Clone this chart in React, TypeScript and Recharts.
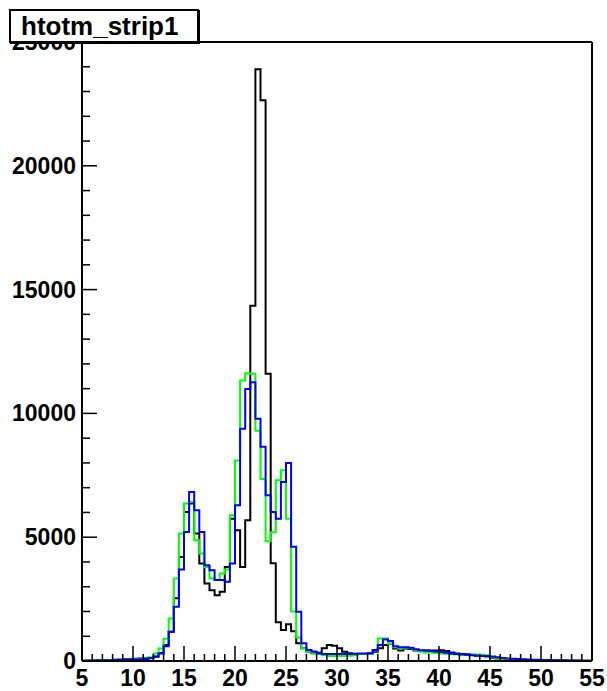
import React from "react"
import { LineChart, Line, XAxis, YAxis, ReferenceLine } from "recharts"

// 100 bins of width 0.5 from 5 to 55
const BIN_START = 5
const BIN_WIDTH = 0.5

const blackCounts = [
  15, 20, 25, 30, 40, 45, 50, 60, 70, 80, 90, 100, 110,
  120, 170, 320, 650, 1180, 2530, 4200, 6020, 6360,
  5150, 3940, 3130, 2860, 2660, 2795, 3800,
  5750, 5280, 3800, 5685, 14350, 23900, 22650, 11600, 3950, 1570, 1250, 1480, 1200, 720,
  510, 376, 310, 336, 510, 645, 620, 510, 376, 310, 282, 282, 282, 300, 376, 510, 645, 700, 500, 420,
  500, 480, 420, 400, 420, 420, 420, 430, 400, 340, 300, 280, 270, 250, 220, 200, 180, 130, 100, 80,
  70, 60, 55, 50, 45, 40, 35, 30, 25, 25, 20, 20, 15, 15, 10, 10, 10,
]

const greenCounts = [
  10, 15, 20, 25, 30, 40, 45, 50, 55, 60, 70, 80, 100,
  150, 300, 500, 900, 1720, 3330, 5150, 6360, 6420,
  4880, 4340, 3800, 3330, 3270, 3530, 3700,
  5890, 8100, 11330, 11625, 11600, 9300, 7350, 4840, 5200, 7300, 7700, 5750, 2000, 950,
  510, 376, 310, 280, 240, 200, 200, 200, 200, 210, 230, 280, 280, 290, 420, 910, 910, 700, 560, 500,
  540, 520, 440, 380, 340, 340, 320, 300, 290, 270, 260, 240, 240, 250, 260, 250, 230, 150, 100, 80,
  70, 60, 50, 40, 40, 30, 30, 25, 20, 20, 15, 15, 10, 10, 10, 5, 5,
]

const blueCounts = [
  10, 15, 20, 25, 30, 35, 40, 45, 50, 55, 60, 70, 80,
  110, 180, 300, 600, 1180, 2190, 3700, 5215, 6830,
  6090, 5215, 3870, 3670, 3270, 3270, 3200,
  3940, 6290, 9380, 10990, 11260, 9780, 8650, 6690, 6020, 5750, 7230, 8000, 4610, 1990,
  720, 440, 380, 310, 280, 280, 280, 280, 280, 280, 290, 300, 300, 310, 440, 645, 870, 810, 600, 560,
  560, 540, 470, 430, 420, 400, 380, 360, 330, 300, 280, 270, 250, 230, 210, 200, 200, 180, 150, 120,
  100, 90, 80, 70, 60, 55, 50, 45, 40, 35, 30, 30, 25, 20, 20, 15, 15,
]

const xTicks = Array.from({ length: 51 }, (_, i) => 5 + i)
const yTicks = Array.from({ length: 26 }, (_, i) => i * 1000)

// step rows: one per bin low edge, plus a closing row at the upper edge
const rows = blackCounts.map((_, i) => ({
  x: BIN_START + i * BIN_WIDTH,
  black: blackCounts[i],
  green: greenCounts[i],
  blue: blueCounts[i],
}))
rows.push({
  x: BIN_START + blackCounts.length * BIN_WIDTH,
  black: blackCounts[blackCounts.length - 1],
  green: greenCounts[greenCounts.length - 1],
  blue: blueCounts[blueCounts.length - 1],
})

const FONT = "'Liberation Sans', Arial, Helvetica, sans-serif"

const XTick = (props: any) => {
  const { x, y, payload } = props
  const major = payload.value % 5 === 0
  return (
    <g>
      <line x1={x} y1={y} x2={x} y2={y - (major ? 15 : 7)} stroke="#000" strokeWidth={1.5} />
      {major && (
        <text x={x} y={y + 25} textAnchor="middle" fontFamily={FONT} fontWeight="bold" fontSize={23} fill="#000">
          {payload.value}
        </text>
      )}
    </g>
  )
}

const YTick = (props: any) => {
  const { x, y, payload } = props
  const major = payload.value % 5000 === 0
  return (
    <g>
      <line x1={x} y1={y} x2={x + (major ? 15 : 8)} y2={y} stroke="#000" strokeWidth={1.5} />
      {major && (
        <text x={x - 6} y={y + 8} textAnchor="end" fontFamily={FONT} fontWeight="bold" fontSize={23} fill="#000">
          {payload.value}
        </text>
      )}
    </g>
  )
}

export default function App() {
  return (
    <div style={{ position: "fixed", left: 0, top: 0, width: 607, height: 691, background: "#fff" }}>
      <LineChart width={607} height={691} data={rows} margin={{ top: 42, right: 15, left: 0, bottom: 0 }}>
        <XAxis
          type="number"
          dataKey="x"
          domain={[5, 55]}
          ticks={xTicks}
          interval={0}
          tickSize={0}
          tickMargin={0}
          tick={<XTick />}
          axisLine={{ stroke: "#000", strokeWidth: 2 }}
          height={30}
          allowDataOverflow
        />
        <YAxis
          type="number"
          domain={[0, 25000]}
          ticks={yTicks}
          interval={0}
          tickSize={0}
          tickMargin={0}
          tick={<YTick />}
          axisLine={{ stroke: "#000", strokeWidth: 2 }}
          width={82}
          allowDataOverflow
        />
        <ReferenceLine x={55} stroke="#000" strokeWidth={2} />
        <ReferenceLine y={25000} stroke="#000" strokeWidth={2} />
        <Line type="stepAfter" dataKey="black" stroke="#000000" strokeWidth={2} dot={false} isAnimationActive={false} />
        <Line type="stepAfter" dataKey="green" stroke="#00ff00" strokeWidth={2} dot={false} isAnimationActive={false} />
        <Line type="stepAfter" dataKey="blue" stroke="#0000ff" strokeWidth={2} dot={false} isAnimationActive={false} />
      </LineChart>
      <div
        style={{
          position: "absolute",
          left: 9,
          top: 9,
          width: 176,
          height: 30,
          border: "2px solid #000",
          boxShadow: "1px 1px 0 #000",
          background: "#fff",
          fontFamily: FONT,
          fontWeight: "bold",
          fontSize: 26,
          lineHeight: "30px",
          paddingLeft: 10,
          boxSizing: "content-box",
          whiteSpace: "nowrap",
        }}
      >
        htotm_strip1
      </div>
    </div>
  )
}
